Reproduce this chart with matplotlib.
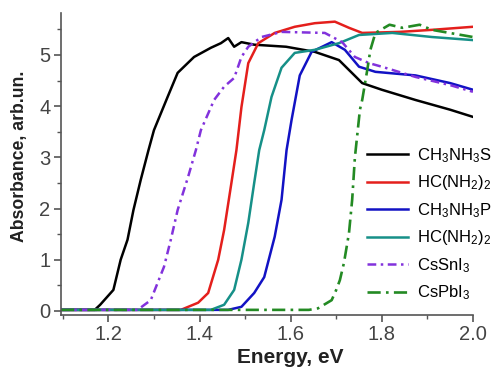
import matplotlib.pyplot as plt
from matplotlib.ticker import MultipleLocator

plt.rcParams['font.family'] = ['Liberation Sans', 'DejaVu Sans']
plt.rcParams['mathtext.default'] = 'regular'

# CH3NH3SnI3
e_mas = [1.096, 1.17, 1.182, 1.211, 1.227, 1.242, 1.255, 1.271, 1.288, 1.30, 1.33, 1.352, 1.388, 1.425,
         1.447, 1.463, 1.476, 1.492, 1.52, 1.59, 1.653, 1.706, 1.757, 1.80, 1.874, 1.95, 2.0]
a_mas = [0.02, 0.02, 0.12, 0.41, 1.0, 1.39, 1.97, 2.56, 3.14, 3.53, 4.18, 4.65, 4.96, 5.14,
         5.23, 5.33, 5.16, 5.25, 5.2, 5.16, 5.06, 4.9, 4.45, 4.32, 4.12, 3.93, 3.79]
# HC(NH2)2SnI3
e_fas = [1.096, 1.359, 1.397, 1.419, 1.441, 1.454, 1.47, 1.481, 1.492, 1.507, 1.529, 1.565, 1.609,
         1.653, 1.697, 1.728, 1.757, 1.839, 1.91, 2.0]
a_fas = [0.02, 0.02, 0.16, 0.35, 1.0, 1.58, 2.5, 3.14, 3.98, 4.84, 5.23, 5.43, 5.55,
         5.62, 5.65, 5.53, 5.43, 5.45, 5.49, 5.55]
# CH3NH3PbI3
e_mapb = [1.096, 1.463, 1.492, 1.52, 1.542, 1.565, 1.58, 1.591, 1.602, 1.62, 1.646, 1.69, 1.719,
          1.75, 1.786, 1.874, 1.95, 2.0]
a_mapb = [0.02, 0.02, 0.08, 0.35, 0.66, 1.45, 2.17, 3.14, 3.73, 4.6, 5.06, 5.25, 5.1,
          4.77, 4.67, 4.6, 4.45, 4.32]
# HC(NH2)2PbI3
e_fapb = [1.096, 1.425, 1.454, 1.476, 1.492, 1.507, 1.52, 1.531, 1.542, 1.558, 1.58, 1.609, 1.653,
          1.706, 1.75, 1.823, 1.91, 2.0]
a_fapb = [0.02, 0.02, 0.12, 0.41, 1.0, 1.72, 2.5, 3.14, 3.53, 4.18, 4.75, 5.04, 5.1,
          5.23, 5.39, 5.43, 5.35, 5.29]
# CsSnI3
e_cssn = [1.096, 1.264, 1.293, 1.322, 1.337, 1.352, 1.375, 1.392, 1.403, 1.432, 1.454, 1.476, 1.492,
          1.507, 1.536, 1.58, 1.675, 1.713, 1.741, 1.772, 1.80, 1.874, 1.95, 2.0]
a_cssn = [0.02, 0.02, 0.21, 0.86, 1.39, 1.97, 2.62, 3.14, 3.53, 4.12, 4.38, 4.55, 4.96,
          5.16, 5.35, 5.45, 5.43, 5.25, 4.96, 4.84, 4.77, 4.57, 4.41, 4.28]
# CsPbI3
e_cspb = [1.096, 1.64, 1.66, 1.69, 1.70, 1.708, 1.717, 1.728, 1.735, 1.741, 1.752, 1.757, 1.768,
          1.775, 1.786, 1.817, 1.845, 1.883, 1.91, 2.0]
a_cspb = [0.02, 0.02, 0.05, 0.21, 0.41, 0.6, 0.94, 1.52, 2.17, 3.0, 3.93, 4.12, 4.7,
          5.1, 5.43, 5.59, 5.53, 5.59, 5.49, 5.35]

labels = [r'CH$_3$NH$_3$SnI$_3$', r'HC(NH$_2$)$_2$SnI$_3$', r'CH$_3$NH$_3$PbI$_3$',
          r'HC(NH$_2$)$_2$PbI$_3$', r'CsSnI$_3$', r'CsPbI$_3$']

fig = plt.figure(figsize=(4.91, 3.67), dpi=100)
ax = fig.add_axes([0.1242, 0.1417, 0.839, 0.823])

ax.plot(e_mas, a_mas, color='black', lw=1.8, label=labels[0])
ax.plot(e_fas, a_fas, color='#e41f1c', lw=1.8, label=labels[1])
ax.plot(e_mapb, a_mapb, color='#1212c4', lw=1.8, label=labels[2])
ax.plot(e_fapb, a_fapb, color='#169088', lw=1.8, label=labels[3])
ax.plot(e_cssn, a_cssn, color='#8232dc', lw=1.8, ls=(0, (3.5, 1.8, 1, 1.8)), label=labels[4])
ax.plot(e_cspb, a_cspb, color='#238a23', lw=1.9, ls=(0, (5, 2, 1, 2)), label=labels[5])

ax.set_xlim(1.096, 2.0)
ax.set_ylim(-0.08, 5.82)
ax.xaxis.set_major_locator(MultipleLocator(0.2))
ax.xaxis.set_minor_locator(MultipleLocator(0.1))
ax.yaxis.set_major_locator(MultipleLocator(1))
ax.yaxis.set_minor_locator(MultipleLocator(0.5))
ax.set_xticks([1.2, 1.4, 1.6, 1.8, 2.0])
ax.set_xticklabels(['1.2', '1.4', '1.6', '1.8', '2.0'])

for s in ['top', 'right']:
    ax.spines[s].set_visible(False)
for s in ['left', 'bottom']:
    ax.spines[s].set_color('#555555')
    ax.spines[s].set_linewidth(1.2)
ax.tick_params(which='both', direction='out', colors='#555555', labelcolor='#444444', labelsize=14.5)
ax.tick_params(which='major', length=5, width=1.2, pad=2.5)
ax.tick_params(which='minor', length=3, width=1.0)

ax.set_xlabel('Energy, eV', fontsize=15, fontweight='bold', color='#222222')
ax.set_ylabel('Absorbance, arb.un.', fontsize=12.7, fontweight='bold', color='#222222')
ax.xaxis.set_label_coords(0.556, -0.108)
ax.yaxis.set_label_coords(-0.08, 0.525)

fig.legend(loc='upper left', bbox_to_anchor=(367 / 491, 1 - 146 / 367), frameon=False,
           fontsize=12, handlelength=2.45, labelspacing=0.52, handletextpad=0.55,
           borderaxespad=0, borderpad=0)

fig.savefig('out.png', dpi=100)
